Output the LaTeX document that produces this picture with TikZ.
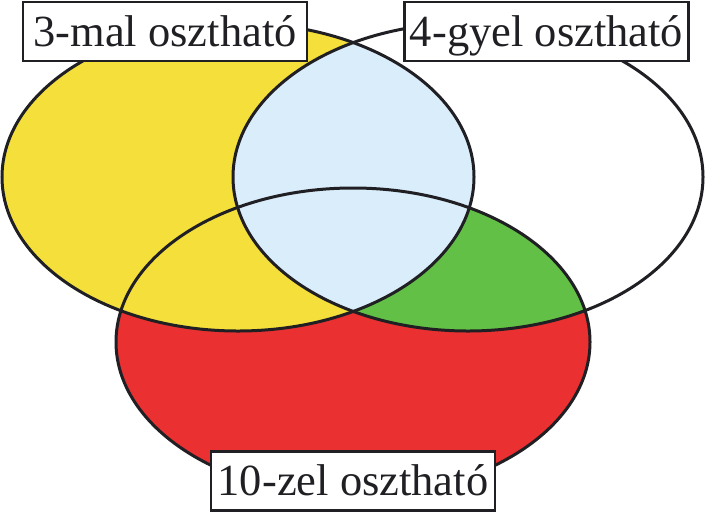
\documentclass[tikz,border=0pt]{standalone}
\usepackage{fontspec}
\setmainfont{Liberation Serif}
\definecolor{vyellow}{RGB}{245,223,58}
\definecolor{vblue}{RGB}{218,237,250}
\definecolor{vgreen}{RGB}{98,192,70}
\definecolor{vred}{RGB}{234,48,48}
\definecolor{vline}{RGB}{32,32,36}
\tikzset{
  outline/.style={draw=vline, line width=3pt},
  setlabel/.style={draw=vline, line width=2.2pt, fill=white, inner sep=0pt,
    minimum width=284pt, minimum height=59pt, text height=39pt, text depth=10pt,
    font=\fontsize{44.5}{50}\selectfont, text=vline},
}
\begin{document}
\begin{tikzpicture}[x=1pt,y=-1pt]
\useasboundingbox (0,0) rectangle (706,512);
\def\ellA{(238,177) ellipse [x radius=236, y radius=154]}
\def\ellB{(468,177) ellipse [x radius=235, y radius=154]}
\def\ellC{(353,342) ellipse [x radius=237, y radius=154]}
% fills
\fill[vred] \ellC;
\fill[vyellow] \ellA;
\begin{scope}
  \clip \ellC;
  \fill[vgreen] \ellB;
\end{scope}
\begin{scope}
  \clip \ellA;
  \fill[vblue] \ellB;
\end{scope}
% outlines
\draw[outline] \ellA;
\draw[outline] \ellB;
\draw[outline] \ellC;
% labels
\node[setlabel] (l3) at (165,31.5) {3-mal osztható};
\node[setlabel] (l4) at (546.5,31.5) {4-gyel osztható};
\node[setlabel] (l10) at (353,481) {10-zel osztható};
\end{tikzpicture}
\end{document}
